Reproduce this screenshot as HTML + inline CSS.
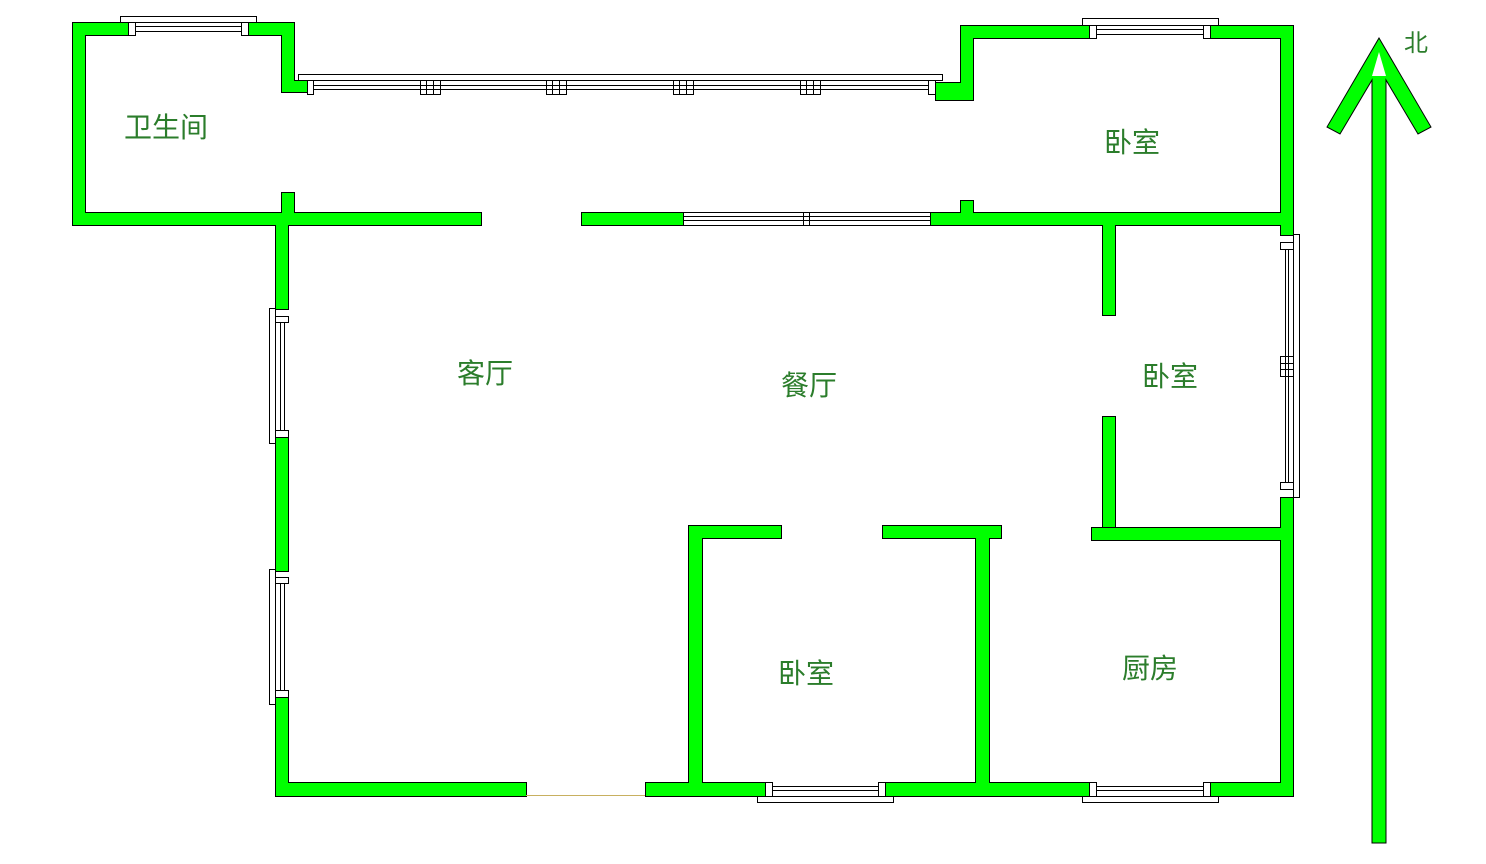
<!DOCTYPE html>
<html><head><meta charset="utf-8"><style>
html,body{margin:0;padding:0;background:#fff;}
svg{display:block}
text{font-family:"Liberation Sans","Noto Sans CJK SC",sans-serif;fill:#2b7d2b;font-size:28px}
</style></head><body>
<svg width="1486" height="864" viewBox="0 0 1486 864" xmlns="http://www.w3.org/2000/svg">
<g id="walls" fill="#00ff00" stroke="#000" stroke-width="1">
<rect x="72.5" y="22.5" width="56" height="13"/>
<rect x="248.5" y="22.5" width="46" height="13"/>
<rect x="72.5" y="22.5" width="13" height="203"/>
<rect x="281.5" y="22.5" width="13" height="70"/>
<rect x="281.5" y="80.5" width="26" height="12"/>
<rect x="281.5" y="192.5" width="13" height="22"/>
<rect x="72.5" y="212.5" width="409" height="13"/>
<rect x="275.5" y="212.5" width="13" height="97"/>
<rect x="275.5" y="437.5" width="13" height="134"/>
<rect x="275.5" y="697.5" width="13" height="99"/>
<rect x="960.5" y="25.5" width="13" height="75"/>
<rect x="935.5" y="82.5" width="38" height="18"/>
<rect x="960.5" y="25.5" width="129" height="13"/>
<rect x="1210.5" y="25.5" width="83" height="13"/>
<rect x="1280.5" y="25.5" width="13" height="210"/>
<rect x="1280.5" y="497.5" width="13" height="299"/>
<rect x="930.5" y="212.5" width="363" height="13"/>
<rect x="960.5" y="200.5" width="13" height="14"/>
<rect x="581.5" y="212.5" width="102" height="13"/>
<rect x="1102.5" y="212.5" width="13" height="103"/>
<rect x="1102.5" y="416.5" width="13" height="111"/>
<rect x="1091.5" y="527.5" width="202" height="13"/>
<rect x="688.5" y="525.5" width="93" height="13"/>
<rect x="882.5" y="525.5" width="119" height="13"/>
<rect x="688.5" y="525.5" width="14" height="271"/>
<rect x="975.5" y="525.5" width="14" height="271"/>
<rect x="275.5" y="782.5" width="251" height="14"/>
<rect x="645.5" y="782.5" width="120" height="14"/>
<rect x="885.5" y="782.5" width="204" height="14"/>
<rect x="1210.5" y="782.5" width="83" height="14"/>
</g>
<g id="fills" fill="#00ff00"></g>
<polygon points="1379,38 1431,127 1418,134 1386,80 1386,843 1372,843 1372,80 1340,134 1327,127" fill="#00ff00" stroke="#000"/>
<polygon points="1379,52 1386,76 1372,76" fill="#fff"/>
<g fill="#fff" stroke="#000" stroke-width="1">
<rect x="120.5" y="16.5" width="136" height="6"/>
<rect x="128.5" y="22.5" width="7" height="13"/>
<rect x="241.5" y="22.5" width="7" height="13"/>
<rect x="298.5" y="74.5" width="644" height="6"/>
<rect x="307.5" y="80.5" width="6" height="14"/>
<rect x="928.5" y="80.5" width="7" height="14"/>
<rect x="420.5" y="80.5" width="20" height="14"/>
<rect x="546.5" y="80.5" width="20" height="14"/>
<rect x="673.5" y="80.5" width="20" height="14"/>
<rect x="800.5" y="80.5" width="20" height="14"/>
<rect x="1082.5" y="18.5" width="136" height="7"/>
<rect x="1089.5" y="25.5" width="7" height="13"/>
<rect x="1203.5" y="25.5" width="7" height="13"/>
<rect x="683.5" y="212.5" width="247" height="13"/>
<rect x="803.5" y="212.5" width="6" height="13"/>
<rect x="269.5" y="308.5" width="6" height="135"/>
<rect x="275.5" y="316.5" width="13" height="6"/>
<rect x="275.5" y="430.5" width="13" height="7"/>
<rect x="269.5" y="569.5" width="6" height="135"/>
<rect x="275.5" y="577.5" width="13" height="6"/>
<rect x="275.5" y="690.5" width="13" height="7"/>
<rect x="1293.5" y="234.5" width="6" height="263"/>
<rect x="1280.5" y="242.5" width="13" height="7"/>
<rect x="1280.5" y="356.5" width="13" height="20"/>
<rect x="1280.5" y="482.5" width="13" height="7"/>
<rect x="757.5" y="796.5" width="136" height="6"/>
<rect x="765.5" y="782.5" width="7" height="14"/>
<rect x="878.5" y="782.5" width="7" height="14"/>
<rect x="1082.5" y="796.5" width="136" height="6"/>
<rect x="1089.5" y="782.5" width="7" height="14"/>
<rect x="1203.5" y="782.5" width="7" height="14"/>
</g>
<g stroke="#000" stroke-width="1">
<line x1="135" y1="26.5" x2="241" y2="26.5"/><line x1="135" y1="31.5" x2="241" y2="31.5"/>
<line x1="313" y1="85.5" x2="928" y2="85.5"/><line x1="313" y1="89.5" x2="928" y2="89.5"/>
<line x1="426.5" y1="81" x2="426.5" y2="94"/><line x1="433.5" y1="81" x2="433.5" y2="94"/>
<line x1="552.5" y1="81" x2="552.5" y2="94"/><line x1="559.5" y1="81" x2="559.5" y2="94"/>
<line x1="679.5" y1="81" x2="679.5" y2="94"/><line x1="686.5" y1="81" x2="686.5" y2="94"/>
<line x1="806.5" y1="81" x2="806.5" y2="94"/><line x1="813.5" y1="81" x2="813.5" y2="94"/>
<line x1="1096" y1="29.5" x2="1203" y2="29.5"/><line x1="1096" y1="34.5" x2="1203" y2="34.5"/>
<line x1="683" y1="216.5" x2="930" y2="216.5"/><line x1="683" y1="220.5" x2="930" y2="220.5"/>
<line x1="280.5" y1="322" x2="280.5" y2="430"/><line x1="284.5" y1="322" x2="284.5" y2="430"/>
<line x1="280.5" y1="583" x2="280.5" y2="690"/><line x1="284.5" y1="583" x2="284.5" y2="690"/>
<line x1="1285.5" y1="249" x2="1285.5" y2="482"/><line x1="1288.5" y1="249" x2="1288.5" y2="482"/>
<line x1="1281" y1="363.5" x2="1293" y2="363.5"/><line x1="1281" y1="369.5" x2="1293" y2="369.5"/>
<line x1="772" y1="786.5" x2="878" y2="786.5"/><line x1="772" y1="790.5" x2="878" y2="790.5"/>
<line x1="1096" y1="786.5" x2="1203" y2="786.5"/><line x1="1096" y1="790.5" x2="1203" y2="790.5"/>
</g>
<line x1="526" y1="795.5" x2="645" y2="795.5" stroke="#c8b060" stroke-width="1"/>
<text x="124" y="137">卫生间</text>
<text x="1104" y="152">卧室</text>
<text x="457" y="383">客厅</text>
<text x="781" y="395">餐厅</text>
<text x="1142" y="386">卧室</text>
<text x="778" y="683">卧室</text>
<text x="1122" y="678">厨房</text>
<text x="1404" y="51" style="font-size:24px">北</text>
</svg>
<script>
(function(){
var ns="http://www.w3.org/2000/svg";
var f=document.getElementById("fills");
document.querySelectorAll("#walls rect").forEach(function(r){
var n=document.createElementNS(ns,"rect");
n.setAttribute("x",+r.getAttribute("x")+0.5);
n.setAttribute("y",+r.getAttribute("y")+0.5);
n.setAttribute("width",+r.getAttribute("width")-1);
n.setAttribute("height",+r.getAttribute("height")-1);
f.appendChild(n);
});
})();
</script>
</body></html>
